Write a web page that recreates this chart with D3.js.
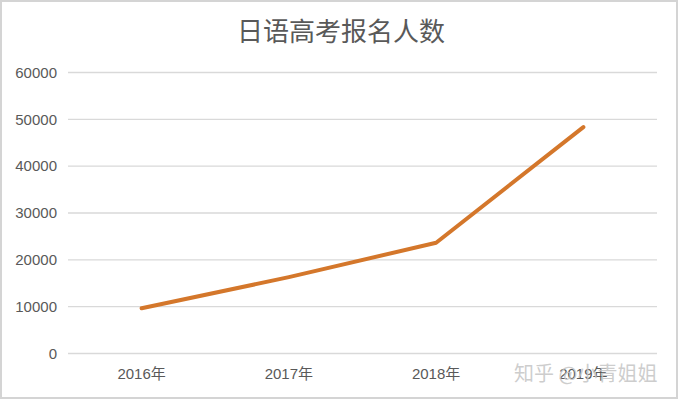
<!DOCTYPE html>
<html><head><meta charset="utf-8">
<script src="https://cdn.jsdelivr.net/npm/d3@7"></script>
<style>
html,body{margin:0;padding:0;background:#fff;}
svg{display:block;}
</style></head>
<body>
<script>
const categories = ["2016年","2017年","2018年","2019年"];
const values = [9650, 16300, 23650, 48350];
const yTicks = [0,10000,20000,30000,40000,50000,60000];
const title = "日语高考报名人数";
const watermark = "知乎 @小青姐姐";

(function(){
const W = 679, H = 400;
const svg = d3.select("body").append("svg").attr("width", W).attr("height", H);

// frame
svg.append("rect").attr("x",1).attr("y",1).attr("width",W-3).attr("height",H-3)
  .attr("fill","#fff").attr("stroke","#d4d4d4").attr("stroke-width",2);

const pLeft = 68, pRight = 657, pTop = 72.5, pBottom = 353.5;
const x = d3.scaleBand().domain(categories).range([pLeft, pRight]);
const y = d3.scaleLinear().domain([0, 60000]).range([pBottom, pTop]);

const font = "'Liberation Sans Narrow','Liberation Sans','Noto Sans CJK SC',sans-serif";

// grid
svg.append("g").selectAll("line").data(yTicks).join("line")
  .attr("x1", pLeft).attr("x2", pRight)
  .attr("y1", d => y(d)).attr("y2", d => y(d))
  .attr("stroke", "#d9d9d9").attr("stroke-width", 1.3);

// y axis labels
const yAxis = d3.axisLeft(y).tickValues(yTicks).tickSize(0).tickPadding(0).tickFormat(d3.format("d"));
const gy = svg.append("g").attr("transform", `translate(${pLeft-11},0)`).call(yAxis);
gy.select(".domain").remove();
gy.selectAll("text").attr("fill","#595959").style("font-family",font).style("font-size","15px");

// x axis labels
const xAxis = d3.axisBottom(x).tickSize(0).tickPadding(0);
const gx = svg.append("g").attr("transform", `translate(0,${pBottom+15})`).call(xAxis);
gx.select(".domain").remove();
gx.selectAll("text").attr("fill","#595959").style("font-family",font).style("font-size","15px");

// line
const line = d3.line().x((d,i) => x(categories[i]) + x.bandwidth()/2).y(d => y(d));
svg.append("path").datum(values).attr("d", line)
  .attr("fill","none").attr("stroke","#d4772b").attr("stroke-width",4)
  .attr("stroke-linecap","round").attr("stroke-linejoin","round");

// title
svg.append("text").attr("x", 341).attr("y", 41).attr("text-anchor","middle")
  .attr("fill","#595959").style("font-family","'Noto Sans CJK SC',sans-serif")
  .style("font-size","26px").text(title);

// watermark
svg.append("text").attr("x", 514).attr("y", 381)
  .attr("fill","#c4c4c4").attr("fill-opacity",0.85)
  .style("font-family","'Noto Sans CJK SC',sans-serif").style("font-size","20px")
  .text(watermark);
})();
</script>
</body></html>
